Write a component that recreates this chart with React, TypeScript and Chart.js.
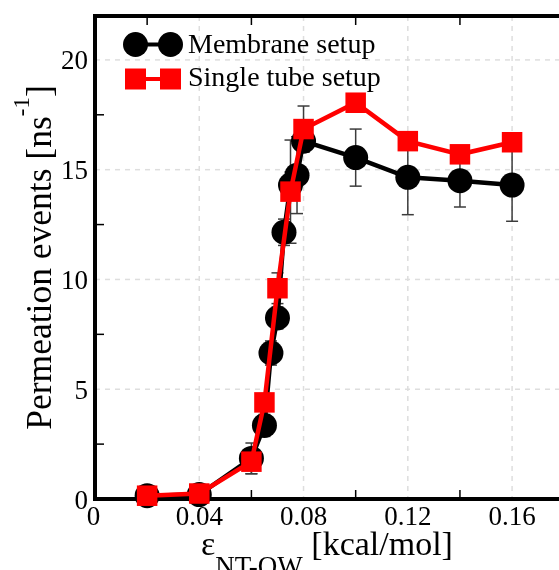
import React, { useEffect, useRef } from "react";
import { Chart, registerables } from "chart.js";

Chart.register(...registerables);

// ---- data ----
const membraneX = [0.02, 0.04, 0.06, 0.065, 0.0675, 0.07, 0.0725, 0.075, 0.0775, 0.08, 0.1, 0.12, 0.14, 0.16];
const membraneY = [0.15, 0.2, 1.85, 3.35, 6.65, 8.25, 12.15, 14.3, 14.75, 16.3, 15.55, 14.65, 14.5, 14.3];
const membraneErr = [0.1, 0.15, 0.7, 0.5, 0.55, 0.5, 0.6, 0.6, 1.75, 0.5, 1.3, 1.7, 1.2, 1.65];

const tubeX = [0.02, 0.04, 0.06, 0.065, 0.07, 0.075, 0.08, 0.1, 0.12, 0.14, 0.16];
const tubeY = [0.15, 0.25, 1.7, 4.4, 9.6, 14.0, 16.85, 18.05, 16.3, 15.7, 16.25];
const tubeErr = [0.1, 0.1, 0.55, 0.4, 0.7, 2.35, 1.05, 0.3, 0.3, 0.3, 0.3];

const seriesLabels = ["Membrane setup", "Single tube setup"];

const xMajorTicks = [0, 0.04, 0.08, 0.12, 0.16];
const xTickLabels = ["0", "0.04", "0.08", "0.12", "0.16"];
const xMinorTicks = [0.02, 0.06, 0.1, 0.14];
const yMajorTicks = [0, 5, 10, 15, 20];
const yTickLabels = ["0", "5", "10", "15", "20"];
const yMinorTicks = [2.5, 7.5, 12.5, 17.5];

const SERIF = '"Liberation Serif", "DejaVu Serif", serif';

const framePlugin = {
  id: "xmgraceFrame",
  beforeDatasetsDraw(chart: any) {
    const { ctx, chartArea: ca, scales } = chart;
    const xs = scales.x;
    const ys = scales.y;
    const line = (x1: number, y1: number, x2: number, y2: number) => {
      ctx.beginPath();
      ctx.moveTo(x1, y1);
      ctx.lineTo(x2, y2);
      ctx.stroke();
    };
    ctx.save();
    // dashed grid
    ctx.strokeStyle = "#dedede";
    ctx.lineWidth = 1.5;
    ctx.setLineDash([5, 5]);
    xMajorTicks.forEach((v) => {
      if (v === 0) return;
      const px = xs.getPixelForValue(v);
      line(px, ca.top, px, ca.bottom);
    });
    yMajorTicks.forEach((v) => {
      if (v === 0) return;
      const py = ys.getPixelForValue(v);
      line(ca.left, py, ca.right, py);
    });
    ctx.setLineDash([]);
    // minor inward ticks
    ctx.strokeStyle = "#000";
    ctx.lineWidth = 1.5;
    xMinorTicks.forEach((v) => {
      const px = xs.getPixelForValue(v);
      line(px, ca.bottom, px, ca.bottom - 9);
      line(px, ca.top, px, ca.top + 9);
    });
    yMinorTicks.forEach((v) => {
      const py = ys.getPixelForValue(v);
      line(ca.left, py, ca.left + 9, py);
    });
    // frame
    ctx.lineWidth = 4;
    ctx.lineJoin = "miter";
    ctx.beginPath();
    ctx.moveTo(ca.right + 10, ca.top);
    ctx.lineTo(ca.left, ca.top);
    ctx.lineTo(ca.left, ca.bottom);
    ctx.lineTo(ca.right + 10, ca.bottom);
    ctx.stroke();
    // error bars
    ctx.strokeStyle = "#3c3c3c";
    ctx.lineWidth = 1.5;
    const drawErr = (xa: number[], ya: number[], ea: number[]) => {
      xa.forEach((xv, i) => {
        const px = xs.getPixelForValue(xv);
        const pt = ys.getPixelForValue(ya[i] + ea[i]);
        const pb = ys.getPixelForValue(ya[i] - ea[i]);
        line(px, pt, px, pb);
        line(px - 6, pt, px + 6, pt);
        line(px - 6, pb, px + 6, pb);
      });
    };
    drawErr(membraneX, membraneY, membraneErr);
    drawErr(tubeX, tubeY, tubeErr);
    ctx.restore();
  },
  afterDraw(chart: any) {
    const { ctx, chartArea: ca, scales } = chart;
    const xs = scales.x;
    const ys = scales.y;
    ctx.save();
    ctx.fillStyle = "#000";
    // tick labels
    ctx.font = `27px ${SERIF}`;
    ctx.textAlign = "center";
    ctx.textBaseline = "alphabetic";
    xMajorTicks.forEach((v, i) => {
      const px = xs.getPixelForValue(v) - (v === 0 ? 1.5 : 0);
      ctx.fillText(xTickLabels[i], px, ca.bottom + 26);
    });
    ctx.textAlign = "right";
    yMajorTicks.forEach((v, i) => {
      const py = ys.getPixelForValue(v);
      ctx.fillText(yTickLabels[i], ca.left - 7, py + 9.5);
    });

    // y title with superscript
    ctx.save();
    ctx.translate(50.5, (ca.top + ca.bottom) / 2);
    ctx.rotate(-Math.PI / 2);
    ctx.textAlign = "left";
    const mainFontY = `35.5px ${SERIF}`;
    const supFont = `23px ${SERIF}`;
    const t1 = "Permeation events [ns";
    const t2 = "-1";
    const t3 = "]";
    ctx.font = mainFontY;
    const w1 = ctx.measureText(t1).width;
    const w3 = ctx.measureText(t3).width;
    ctx.font = supFont;
    const w2 = ctx.measureText(t2).width;
    let sx = -(w1 + w2 + w3) / 2;
    ctx.font = mainFontY;
    ctx.fillText(t1, sx, 0);
    sx += w1;
    ctx.font = supFont;
    ctx.fillText(t2, sx, -22);
    sx += w2;
    ctx.font = mainFontY;
    ctx.fillText(t3, sx, 0);
    ctx.restore();

    // x title with subscript
    const mainFontX = `34px ${SERIF}`;
    const subFont = `27px ${SERIF}`;
    const a1 = "ε";
    const a2 = "NT-OW";
    const a3 = " [kcal/mol]";
    ctx.textAlign = "left";
    ctx.font = mainFontX;
    const v1 = ctx.measureText(a1).width;
    const v3 = ctx.measureText(a3).width;
    ctx.font = subFont;
    const v2 = ctx.measureText(a2).width;
    let tx = (ca.left + ca.right) / 2 - (v1 + v2 + v3) / 2;
    const baseY = 555;
    ctx.font = mainFontX;
    ctx.fillText(a1, tx, baseY);
    tx += v1;
    ctx.font = subFont;
    ctx.fillText(a2, tx, baseY + 20);
    tx += v2;
    ctx.font = mainFontX;
    ctx.fillText(a3, tx, baseY);

    // legend
    const lx1 = 135.5;
    const lx2 = 170.5;
    ctx.strokeStyle = "#000";
    ctx.lineWidth = 4;
    ctx.beginPath();
    ctx.moveTo(lx1, 44.5);
    ctx.lineTo(lx2, 44.5);
    ctx.stroke();
    ctx.fillStyle = "#000";
    [lx1, lx2].forEach((cx) => {
      ctx.beginPath();
      ctx.arc(cx, 44.5, 12.5, 0, Math.PI * 2);
      ctx.fill();
    });
    ctx.strokeStyle = "#ff0000";
    ctx.beginPath();
    ctx.moveTo(lx1, 79);
    ctx.lineTo(lx2, 79);
    ctx.stroke();
    ctx.fillStyle = "#ff0000";
    [lx1, lx2].forEach((cx) => {
      ctx.fillRect(cx - 10.5, 79 - 10.5, 21, 21);
    });
    ctx.fillStyle = "#000";
    ctx.font = `28px ${SERIF}`;
    ctx.fillText(seriesLabels[0], 188, 53);
    ctx.fillText(seriesLabels[1], 188, 86);
    ctx.restore();
  },
};

export default function App() {
  const canvasRef = useRef<HTMLCanvasElement | null>(null);

  useEffect(() => {
    document.documentElement.style.overflow = "hidden";
    document.body.style.overflow = "hidden";
    document.body.style.margin = "0";
    if (!canvasRef.current) return;
    const chart = new Chart(canvasRef.current, {
      type: "line",
      data: {
        datasets: [
          {
            label: seriesLabels[0],
            data: membraneX.map((x, i) => ({ x, y: membraneY[i] })),
            borderColor: "#000000",
            backgroundColor: "#000000",
            borderWidth: 4.5,
            pointStyle: "circle",
            pointRadius: 12.5,
            pointHoverRadius: 12.5,
            pointBorderWidth: 0,
            pointBackgroundColor: "#000000",
            tension: 0,
            order: 1,
            clip: false as any,
          },
          {
            label: seriesLabels[1],
            data: tubeX.map((x, i) => ({ x, y: tubeY[i] })),
            borderColor: "#ff0000",
            backgroundColor: "#ff0000",
            borderWidth: 4.5,
            pointStyle: "rect",
            pointRadius: 14.5,
            pointHoverRadius: 14.5,
            pointBorderWidth: 0,
            pointBackgroundColor: "#ff0000",
            tension: 0,
            order: 0,
            clip: false as any,
          },
        ],
      },
      options: {
        animation: false,
        responsive: false,
        devicePixelRatio: 1,
        events: [],
        layout: { autoPadding: false, padding: { left: 95, top: 16, right: 0, bottom: 71 } },
        plugins: {
          legend: { display: false },
          tooltip: { enabled: false },
        },
        scales: {
          x: { type: "linear", min: 0, max: 0.178, display: false },
          y: { type: "linear", min: 0, max: 22, display: false },
        },
      },
      plugins: [framePlugin],
    });
    return () => chart.destroy();
  }, []);

  return (
    <div style={{ position: "fixed", left: 0, top: 0, width: 559, height: 570, overflow: "hidden", background: "#fff" }}>
      <canvas ref={canvasRef} width={559} height={570} style={{ width: 559, height: 570, display: "block" }} />
    </div>
  );
}
